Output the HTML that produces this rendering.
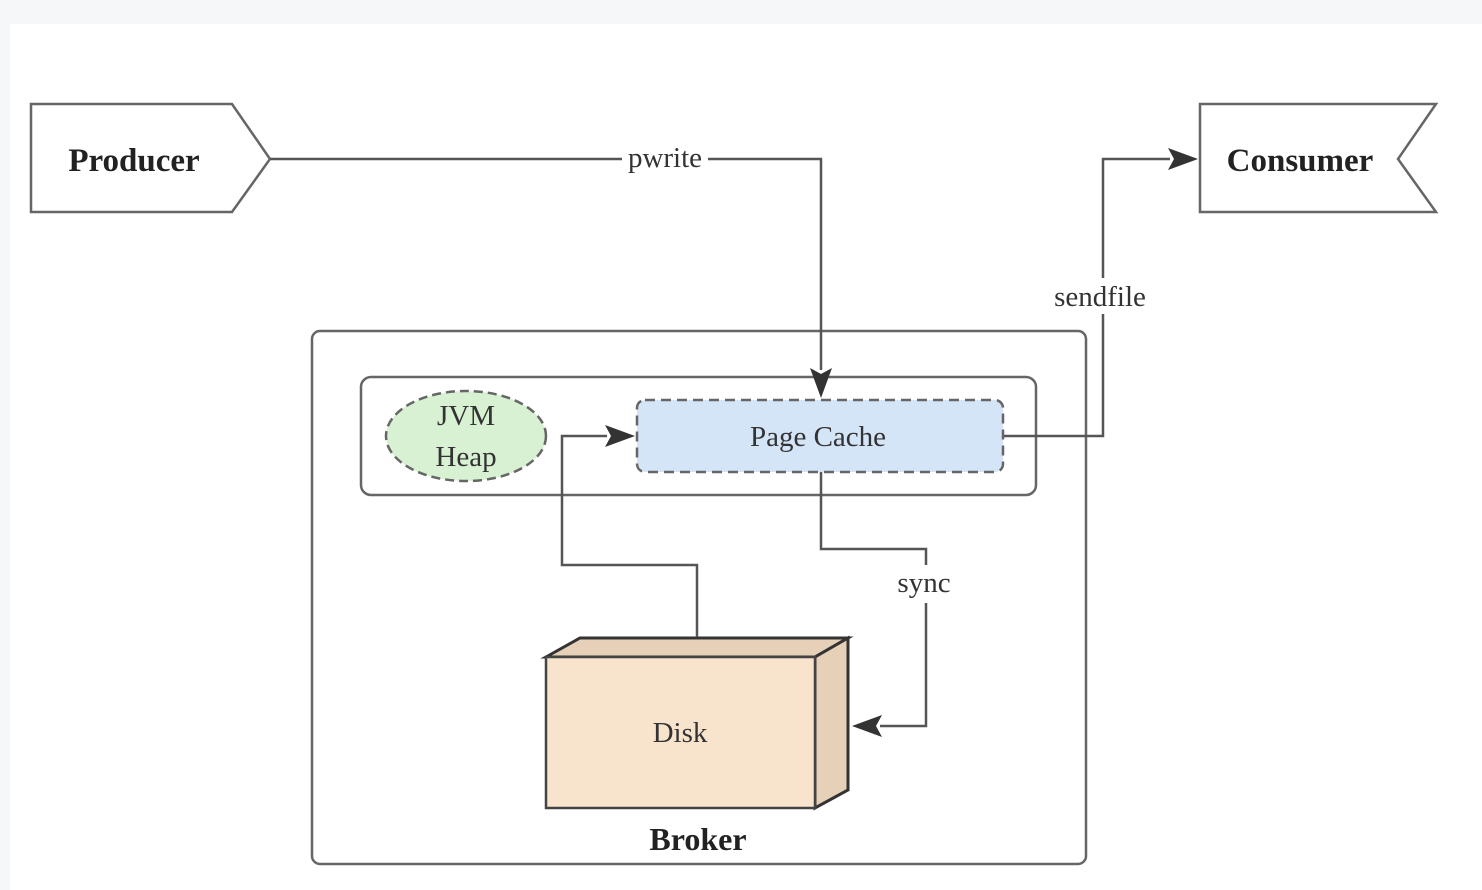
<!DOCTYPE html>
<html><head><meta charset="utf-8"><style>
html,body{margin:0;padding:0;background:#f6f7f8;}
svg{display:block;}
</style></head><body>
<svg width="1482" height="890" viewBox="0 0 1482 890" xmlns="http://www.w3.org/2000/svg" font-family="'Liberation Serif',serif">
<defs>
<marker id="a" viewBox="0 0 30 22" refX="2" refY="11" markerWidth="30" markerHeight="22" markerUnits="userSpaceOnUse" orient="auto">
<path d="M0,0 L30,11 L0,22 L6,11 z" fill="#333"/></marker>
</defs>
<rect x="10" y="24" width="1472" height="866" fill="#fff"/>
<path d="M31,104 L232,104 L270,159 L232,212 L31,212 Z" fill="#fff" stroke="#666" stroke-width="2.5"/>
<text x="134" y="171" font-size="33" font-weight="bold" text-anchor="middle" fill="#222">Producer</text>
<path d="M1200,104 L1436,104 L1398,159 L1436,212 L1200,212 Z" fill="#fff" stroke="#666" stroke-width="2.5"/>
<text x="1300" y="171" font-size="33" font-weight="bold" text-anchor="middle" fill="#222">Consumer</text>
<rect x="312" y="331" width="774" height="533" rx="8" fill="#fff" stroke="#666" stroke-width="2.5"/>
<rect x="361" y="377" width="675" height="118" rx="10" fill="#fff" stroke="#666" stroke-width="2.5"/>
<ellipse cx="466" cy="436" rx="80" ry="45" fill="#d8f1d2" stroke="#666" stroke-width="2.5" stroke-dasharray="9,5"/>
<text x="466" y="425" font-size="29" text-anchor="middle" fill="#333">JVM</text>
<text x="466" y="466" font-size="29" text-anchor="middle" fill="#333">Heap</text>
<rect x="637" y="400" width="366" height="72" rx="8" fill="#d5e5f8" stroke="#666" stroke-width="2.5" stroke-dasharray="10,6"/>
<text x="818" y="446" font-size="29" text-anchor="middle" fill="#333">Page Cache</text>
<path d="M546,657 L580,638 L848,638 L815,657 Z" fill="#e6d1b8" stroke="#333" stroke-width="3"/>
<path d="M815,657 L848,638 L848,790 L815,808 Z" fill="#e6d1b8" stroke="#333" stroke-width="3"/>
<rect x="546" y="657" width="269" height="151" fill="#f8e3cc" stroke="#444" stroke-width="2.5"/>
<text x="680" y="742" font-size="29" text-anchor="middle" fill="#333">Disk</text>
<text x="698" y="850" font-size="32" font-weight="bold" text-anchor="middle" fill="#222">Broker</text>
<g fill="none" stroke="#555" stroke-width="2.5">
<path d="M270,159 L821,159 L821,370" marker-end="url(#a)"/>
<path d="M1004,436 L1103,436 L1103,159 L1170,159" marker-end="url(#a)"/>
<path d="M697,637 L697,565 L562,565 L562,436 L607,436" marker-end="url(#a)"/>
<path d="M821,472 L821,549 L926,549 L926,726 L880,726" marker-end="url(#a)"/>
</g>
<rect x="622" y="145" width="86" height="30" fill="#fff"/>
<text x="665" y="167" font-size="29" text-anchor="middle" fill="#333">pwrite</text>
<rect x="1048" y="278" width="106" height="36" fill="#fff"/>
<text x="1100" y="306" font-size="29" text-anchor="middle" fill="#333">sendfile</text>
<rect x="892" y="565" width="66" height="38" fill="#fff"/>
<text x="924" y="592" font-size="29" text-anchor="middle" fill="#333">sync</text>
</svg>
</body></html>
